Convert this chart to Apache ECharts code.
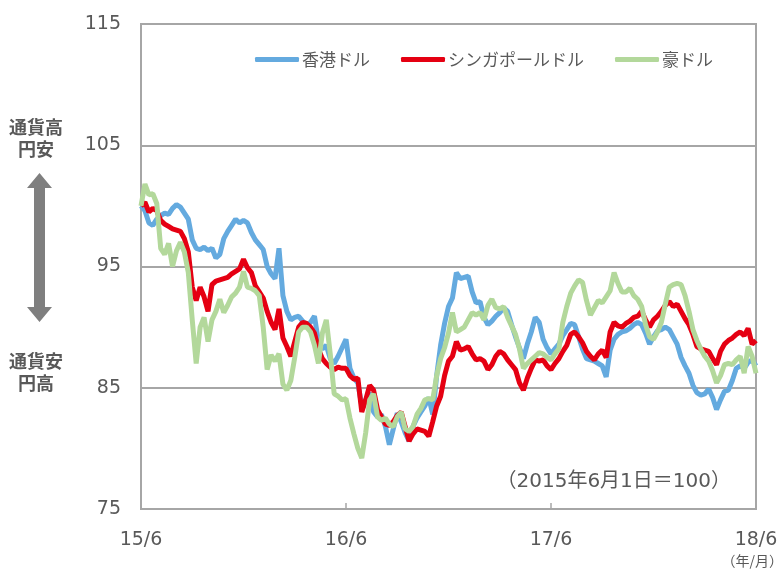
<!DOCTYPE html>
<html>
<head>
<meta charset="utf-8">
<script src="https://cdn.jsdelivr.net/npm/echarts@6/dist/echarts.min.js"></script>
<style>
	html, body { margin: 0; padding: 0; background: #fff; }
	#chart { width: 783px; height: 572px; }
</style>
</head>
<body>
<div id="chart"></div>
<script>
// 週次データ（2015/6/1 = 100）
var seriesNames = ['香港ドル', 'シンガポールドル', '豪ドル'];
var xTickLabels = ['15/6', '16/6', '17/6', '18/6'];

var hkd = [
	100.0, 99.6, 98.6, 98.4, 98.9, 99.2, 99.4, 99.3, 99.8, 100.1,
	99.9, 99.4, 98.9, 97.2, 96.5, 96.4, 96.6, 96.3, 96.5, 95.7,
	96.0, 97.3, 97.9, 98.4, 98.9, 98.6, 98.8, 98.6, 97.8, 97.2,
	96.8, 96.4, 95.0, 94.4, 94.0, 96.5, 92.6, 91.3, 90.6, 90.8,
	90.9, 90.5, 90.2, 90.4, 90.9, 88.8, 88.2, 88.5, 87.4, 87.0,
	87.6, 88.3, 89.0, 86.6, 85.8, 85.4, 83.5, 84.0, 84.6, 83.0,
	82.6, 82.8, 81.8, 80.3, 81.6, 82.9, 82.2, 81.3, 80.6, 81.8,
	82.5, 83.0, 83.5, 84.2, 82.8, 86.0, 88.5, 90.3, 91.7, 92.4,
	94.5, 94.0, 94.1, 94.2, 92.9, 92.0, 92.1, 90.8, 90.2, 90.5,
	90.9, 91.2, 91.6, 91.3, 90.2, 89.2, 88.3, 87.4, 88.6, 89.6,
	90.8, 90.4, 89.0, 88.3, 87.8, 88.2, 88.6, 89.3, 89.8, 90.3,
	90.2, 89.2, 88.2, 87.4, 87.3, 87.2, 87.0, 86.8, 85.9, 88.1,
	89.0, 89.4, 89.6, 89.7, 89.9, 90.2, 90.4, 90.2, 89.5, 88.6,
	89.2, 89.7, 89.8, 90.0, 89.8, 89.2, 88.6, 87.5, 86.8, 86.2,
	85.2, 84.6, 84.4, 84.5, 84.9, 84.2, 83.2, 84.0, 84.7, 84.8,
	85.6, 86.6, 86.8, 86.6, 87.1, 87.3, 86.8
];
var sgd = [
	100.0, 100.3, 99.5, 99.8, 99.6, 98.8, 98.5, 98.3, 98.1, 98.0,
	97.9, 97.3, 96.2, 93.3, 92.2, 93.3, 92.5, 91.3, 93.5, 93.8,
	93.9, 94.0, 94.1, 94.4, 94.6, 94.8, 95.6, 94.9, 94.5, 93.4,
	92.9, 92.4, 91.3, 90.4, 89.8, 91.5, 89.1, 88.4, 87.6, 88.8,
	90.0, 90.4, 90.3, 90.0, 89.5, 88.2, 87.4, 87.0, 86.7, 86.5,
	86.7, 86.6, 86.6, 86.0, 85.7, 85.8, 83.0, 84.0, 85.2, 84.8,
	83.2, 82.6, 82.0, 81.9, 82.2, 82.7, 83.0, 81.8, 80.6, 81.2,
	81.6, 81.5, 81.4, 81.0, 82.2, 83.5, 84.3, 86.0, 87.2, 87.6,
	88.8, 88.1, 88.2, 88.4, 87.8, 87.3, 87.4, 87.2, 86.5, 86.9,
	87.6, 88.0, 87.8, 87.3, 86.9, 86.5, 85.4, 84.8, 85.8, 86.6,
	87.3, 87.2, 87.3, 86.8, 86.5, 87.0, 87.4, 88.0, 88.5, 89.4,
	89.6, 89.2, 88.7, 88.0, 87.6, 87.3, 87.8, 88.1, 87.5, 89.6,
	90.4, 90.1, 90.0, 90.3, 90.5, 90.8, 90.9, 91.3, 90.6, 90.0,
	90.6, 90.9, 91.3, 91.8, 92.1, 91.7, 91.9, 91.3, 90.7, 90.2,
	89.4, 88.4, 88.2, 88.1, 88.0, 87.4, 86.9, 88.0, 88.6, 88.9,
	89.1, 89.4, 89.6, 89.3, 89.9, 88.6, 88.9
];
var aud = [
	100.0, 101.8, 100.9, 101.0, 100.2, 96.5, 96.0, 96.9, 95.0, 96.3,
	97.0, 96.2, 94.5, 90.6, 87.0, 90.0, 90.8, 88.8, 90.6, 91.3,
	92.3, 91.2, 91.8, 92.5, 92.8, 93.3, 94.6, 93.3, 93.2, 93.0,
	92.6, 90.0, 86.5, 87.7, 87.2, 87.8, 85.3, 84.8, 85.6, 87.5,
	89.6, 90.0, 90.0, 89.6, 88.5, 87.0, 89.5, 90.6, 87.8, 84.5,
	84.3, 84.0, 84.1, 82.5, 81.2, 80.0, 79.2, 81.3, 84.0, 84.5,
	82.6, 82.3, 82.5, 82.0, 81.8, 82.6, 83.0, 81.6, 81.4, 81.8,
	82.8, 83.3, 84.0, 84.1, 84.0, 86.0, 87.4, 88.3, 89.5, 91.2,
	89.6, 89.8, 90.0, 90.6, 91.2, 91.0, 91.2, 90.6, 91.8, 92.3,
	91.6, 91.5, 91.7, 90.8, 90.1, 89.4, 88.2, 86.6, 87.0, 87.3,
	87.6, 87.9, 87.8, 87.5, 87.3, 87.8, 88.2, 90.4, 91.7, 92.8,
	93.4, 93.9, 93.7, 92.2, 91.0, 91.6, 92.2, 92.0, 92.5, 93.0,
	94.5, 93.6, 92.9, 92.9, 93.2, 92.6, 92.3, 91.7, 90.2, 89.2,
	89.0, 89.6, 90.4, 91.9, 93.3, 93.5, 93.6, 93.5, 92.6, 91.3,
	89.8, 88.9, 88.2, 87.6, 87.2, 86.4, 85.4, 86.0, 86.9, 87.0,
	86.9, 87.3, 87.6, 86.2, 88.4, 87.6, 86.2
];

/* 週の日付（カテゴリ） */
var weeks = [];
(function(){
	var d0 = new Date(2015, 5, 1);
	for (var i = 0; i < hkd.length; i++) {
		var d = new Date(d0.getTime() + i * 7 * 86400000);
		weeks.push(d.getFullYear() + '/' + (d.getMonth() + 1) + '/' + d.getDate());
	}
}());

var labelColor = '#595959';
var lineColor = '#a6a6a6';
var fontFamily = '"DejaVu Sans", Verdana, "Noto Sans CJK JP", sans-serif';

function isYearTick(i){
	return i % 52 === 0;
}

var chart = echarts.init(document.getElementById('chart'), null, { renderer: 'canvas' });

var option = {
	animation: false,
	textStyle: { fontFamily: fontFamily },
	grid: {
		left: 141, right: 27, top: 24, bottom: 63,
		show: true,
		borderColor: lineColor,
		borderWidth: 2
	},
	legend: {
		left: 250,
		top: 46,
		itemGap: 31,
		itemWidth: 44,
		itemHeight: 5,
		icon: 'roundRect',
		textStyle: { color: labelColor, fontSize: 17, fontFamily: '"Noto Sans CJK JP", sans-serif', padding: [0, 0, 0, -2] },
		data: seriesNames
	},
	xAxis: {
		type: 'category',
		data: weeks,
		boundaryGap: false,
		axisLine: { lineStyle: { color: lineColor, width: 2 } },
		axisTick: { show: true, inside: true, length: 6, interval: function(i){ return isYearTick(i); }, lineStyle: { color: lineColor, width: 1.5 } },
		axisLabel: {
			interval: function(i){ return isYearTick(i); },
			showMaxLabel: true,
			color: labelColor,
			fontSize: 19,
			margin: 22,
			formatter: function(v, i){ return xTickLabels[i / 52]; }
		},
		splitLine: { show: false }
	},
	yAxis: {
		type: 'value',
		min: 75, max: 115, interval: 10,
		axisLine: { show: true, lineStyle: { color: lineColor, width: 2 } },
		axisTick: { show: false },
		axisLabel: { color: labelColor, fontSize: 19, margin: 20 },
		splitLine: { lineStyle: { color: lineColor, width: 2 } }
	},
	series: [
		{ name: seriesNames[0], type: 'line', data: hkd, showSymbol: false, symbol: 'none', lineStyle: { width: 5, color: '#64aadf' }, itemStyle: { color: '#64aadf' } },
		{ name: seriesNames[1], type: 'line', data: sgd, showSymbol: false, symbol: 'none', lineStyle: { width: 5, color: '#e50012' }, itemStyle: { color: '#e50012' } },
		{ name: seriesNames[2], type: 'line', data: aud, showSymbol: false, symbol: 'none', lineStyle: { width: 5, color: '#b3d89b' }, itemStyle: { color: '#b3d89b' } }
	],
	graphic: [
		{ type: 'text', left: 9, top: 116, style: { text: '通貨高\n円安', fill: '#595959', font: 'bold 18px "Noto Sans CJK JP"', textAlign: 'center', lineHeight: 22, x: 28 } },
		{ type: 'text', left: 9, top: 350, style: { text: '通貨安\n円高', fill: '#595959', font: 'bold 18px "Noto Sans CJK JP"', textAlign: 'center', lineHeight: 22, x: 28 } },
		{ type: 'polygon', shape: { points: [[39.5, 173], [52, 188], [45, 188], [45, 307], [52, 307], [39.5, 322], [27, 307], [34, 307], [34, 188], [27, 188]] }, style: { fill: '#7f7f7f' } },
		{ type: 'text', right: 52, top: 472, style: { text: '（2015年6月1日＝100）', fill: labelColor, font: '20px "DejaVu Sans", "Noto Sans CJK JP"' } },
		{ type: 'text', right: 0, top: 554, style: { text: '（年/月）', fill: labelColor, font: '14px "Noto Sans CJK JP"' } }
	]
};

chart.setOption(option);
</script>
</body>
</html>
